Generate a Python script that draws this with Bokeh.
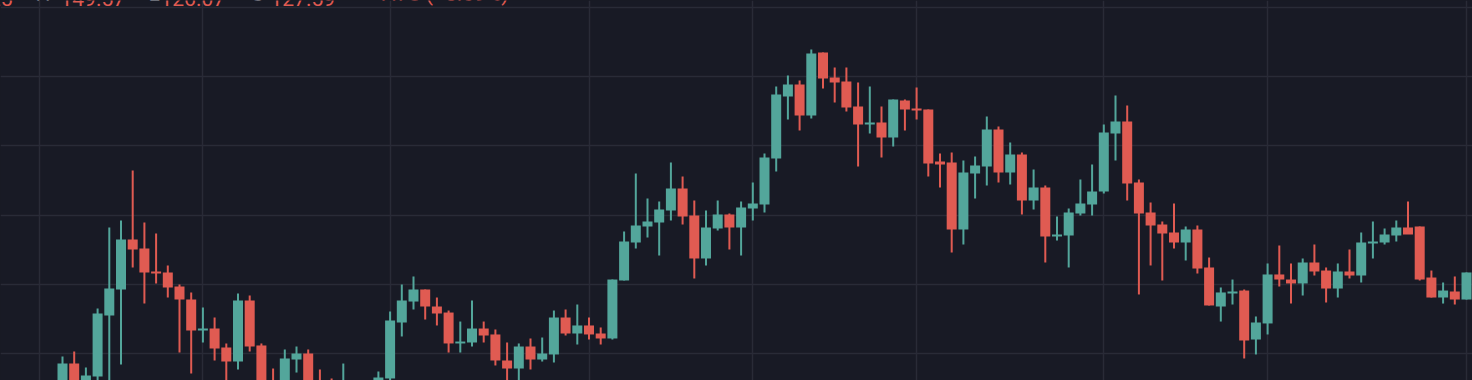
from bokeh.plotting import figure
from bokeh.models import Range1d, FixedTicker, Label, ColumnDataSource, GlobalInlineStyleSheet
from bokeh.embed import file_html
from bokeh.resources import INLINE

# ---- data ----
opens = [95.38, 98.55, 95.81, 96.68, 105.49, 109.25, 116.47, 115.17, 111.85, 111.71,
         109.68, 107.80, 103.32, 103.61, 100.87, 98.84, 107.66, 101.16, 95.66, 95.52,
         99.13, 100.00, 95.81, 95.38, 93.93, 94.36, 94.65, 94.65, 96.39, 104.48,
         107.51, 109.25, 106.79, 105.92, 101.45, 101.59, 103.61, 102.75, 98.99, 97.83,
         101.01, 99.13, 99.86, 105.20, 102.89, 104.05, 102.89, 102.17, 110.55, 116.04,
         118.35, 118.93, 120.66, 123.84, 119.94, 113.73, 118.06, 120.09, 118.21, 120.95,
         121.53, 128.18, 137.14, 138.87, 134.39, 143.50, 139.88, 139.31, 135.69, 133.09,
         133.38, 131.21, 136.56, 135.40, 135.26, 127.75, 127.60, 117.92, 126.01, 127.02,
         132.37, 126.16, 128.76, 122.11, 123.99, 116.91, 117.05, 120.23, 121.53, 123.41,
         131.79, 133.53, 124.71, 120.38, 118.64, 117.49, 116.04, 117.92, 112.43, 106.79,
         108.67, 109.10, 102.02, 104.34, 111.42, 110.69, 110.12, 113.15, 111.99, 109.39,
         111.85, 111.27, 115.90, 116.04, 117.05, 118.21, 118.35, 110.98, 108.09, 108.96,
         107.80]
highs = [99.57, 100.29, 97.98, 106.50, 118.21, 119.22, 126.45, 118.93, 117.34, 112.72,
         109.97, 108.82, 106.65, 105.20, 101.45, 108.67, 108.38, 101.45, 97.83, 100.58,
         101.01, 100.58, 97.69, 96.39, 98.55, 95.66, 95.81, 97.40, 106.07, 109.97,
         111.13, 109.25, 108.09, 106.21, 104.62, 107.66, 104.62, 103.47, 101.59, 101.45,
         102.17, 102.31, 106.21, 106.36, 107.08, 105.20, 103.76, 110.69, 117.63, 126.01,
         122.40, 121.97, 127.60, 125.58, 122.11, 120.66, 122.11, 120.23, 121.97, 124.71,
         128.90, 138.58, 140.17, 139.45, 143.93, 143.50, 141.33, 141.33, 139.16, 138.58,
         135.69, 136.71, 136.71, 138.44, 135.26, 128.90, 129.05, 127.89, 128.47, 134.25,
         132.80, 130.49, 129.05, 126.59, 124.28, 119.80, 120.95, 125.14, 127.31, 133.09,
         137.28, 135.84, 125.14, 121.82, 119.08, 121.68, 118.35, 118.50, 113.87, 109.54,
         110.69, 109.25, 105.35, 113.01, 115.61, 113.01, 113.73, 115.75, 112.43, 113.01,
         115.03, 117.49, 119.08, 118.06, 119.22, 121.97, 118.35, 111.99, 110.26, 111.13,
         111.71]
lows = [94.36, 94.94, 95.23, 95.66, 95.95, 98.41, 112.43, 107.22, 110.12, 108.09,
        100.14, 97.11, 101.59, 98.99, 95.81, 97.69, 100.29, 94.65, 93.93, 94.94,
        97.25, 94.65, 94.36, 93.93, 93.50, 93.79, 94.08, 94.36, 95.95, 102.46,
        106.36, 104.91, 104.05, 100.14, 100.14, 101.01, 101.59, 98.27, 95.81, 95.95,
        97.69, 98.84, 98.70, 102.60, 101.30, 102.02, 101.30, 102.02, 110.55, 115.17,
        116.76, 114.16, 119.22, 118.64, 110.84, 112.72, 117.77, 115.03, 114.16, 119.22,
        120.38, 126.30, 133.82, 132.23, 133.96, 138.29, 136.27, 134.97, 127.02, 131.79,
        128.32, 129.91, 132.23, 133.82, 125.58, 123.99, 114.60, 115.75, 122.40, 124.28,
        124.71, 124.42, 120.09, 120.81, 113.15, 116.33, 112.43, 119.94, 119.94, 123.12,
        127.89, 122.11, 108.53, 112.72, 110.55, 115.17, 113.44, 111.56, 106.94, 104.62,
        107.08, 99.28, 99.86, 102.75, 109.68, 107.22, 108.38, 111.27, 107.37, 108.09,
        110.84, 110.26, 113.73, 115.75, 116.19, 117.92, 110.55, 108.09, 107.22, 107.08,
        107.80]
closes = [98.55, 95.52, 96.82, 105.78, 109.39, 116.47, 115.03, 111.71, 111.56, 109.54,
          107.80, 103.32, 103.61, 100.72, 98.84, 107.66, 101.01, 95.38, 94.36, 99.28,
          100.00, 95.38, 94.94, 94.36, 95.38, 95.23, 95.38, 96.53, 104.77, 107.66,
          109.25, 106.79, 105.78, 101.45, 101.73, 103.61, 102.60, 98.99, 97.83, 101.01,
          99.13, 100.00, 105.20, 102.89, 104.05, 102.75, 102.17, 110.69, 116.19, 118.50,
          119.08, 120.81, 123.84, 119.80, 113.73, 118.21, 120.09, 118.21, 121.10, 121.68,
          128.32, 137.43, 138.87, 134.39, 143.35, 139.74, 139.16, 135.55, 133.09, 133.38,
          131.21, 136.71, 135.26, 135.12, 127.46, 127.31, 117.92, 126.16, 127.17, 132.37,
          126.16, 128.76, 122.11, 123.99, 116.91, 117.20, 120.38, 121.68, 123.41, 131.94,
          133.53, 124.57, 120.23, 118.50, 117.34, 116.04, 117.92, 112.28, 106.94, 108.82,
          108.96, 101.88, 104.48, 111.42, 110.69, 110.12, 113.15, 111.85, 109.39, 111.85,
          111.27, 116.04, 116.19, 117.20, 118.21, 117.20, 110.69, 108.09, 109.10, 107.80,
          111.71]

period_breaks = [-2, 12, 28, 45, 59, 73, 89, 103, 120]   # vertical grid (bar index)
price_levels = [100, 110, 120, 130, 140, 150]            # horizontal grid

header_labels = ["O", "H", "L", "C"]
header_values = ["136.25", "149.57", "126.07", "127.59"]
header_change = "\u22127.78 (\u22125.69%)"

# ---- style ----
W, H = 1472, 380
BG = "#181a25"
GRID = "#292b37"
UP = "#53a69b"
DOWN = "#e05b52"
LABEL_GRAY = "#b2b5be"
FONT = "Roboto"

px_per_bar = 11.70
px_per_unit = 6.92
x_lo = -62 / px_per_bar
x_hi = x_lo + W / px_per_bar
y_hi = 150 + 7 / px_per_unit
y_lo = y_hi - H / px_per_unit

n = len(opens)
xs = list(range(n))
src = ColumnDataSource(dict(
    x=xs, open=opens, high=highs, low=lows, close=closes,
    top=[max(o, c) for o, c in zip(opens, closes)],
    bottom=[min(o, c) for o, c in zip(opens, closes)],
    color=[UP if c >= o else DOWN for o, c in zip(opens, closes)],
))

p = figure(width=W, height=H,
           x_range=Range1d(x_lo, x_hi), y_range=Range1d(y_lo, y_hi),
           output_backend="svg", toolbar_location=None,
           x_axis_location=None, y_axis_location=None,
           min_border=0, background_fill_color=BG, border_fill_color=BG,
           outline_line_color=None)
p.stylesheets = [GlobalInlineStyleSheet(css="body { background: %s; }" % BG)]

p.xgrid.ticker = FixedTicker(ticks=period_breaks)
p.ygrid.ticker = FixedTicker(ticks=price_levels)
p.grid.grid_line_color = GRID
p.grid.grid_line_width = 1.5

p.segment(x0="x", y0="low", x1="x", y1="high", line_color="color", line_width=2, source=src)
p.vbar(x="x", width=0.855, top="top", bottom="bottom", fill_color="color",
       line_color=None, source=src)

# ---- header (cut off at the top edge, as in the reference) ----
hdr_y = y_hi - 5 / px_per_unit
fs = "21px"
def lab(x, text, color, align="left"):
    p.add_layout(Label(x=x, x_units="screen", y=hdr_y, y_units="data", text=text,
                       text_color=color, text_font=FONT, text_font_size=fs,
                       text_align=align, text_baseline="bottom"))

lab(-80, header_labels[0], LABEL_GRAY, "right")
lab(12, header_values[0], DOWN, "right")
lab(35, header_labels[1], LABEL_GRAY)
lab(60, header_values[1], DOWN)
lab(148, header_labels[2], LABEL_GRAY)
lab(160, header_values[2], DOWN)
lab(250, header_labels[3], LABEL_GRAY)
lab(270, header_values[3], DOWN)
lab(367, header_change, DOWN)

open("out.html", "w").write(file_html(p, INLINE))
